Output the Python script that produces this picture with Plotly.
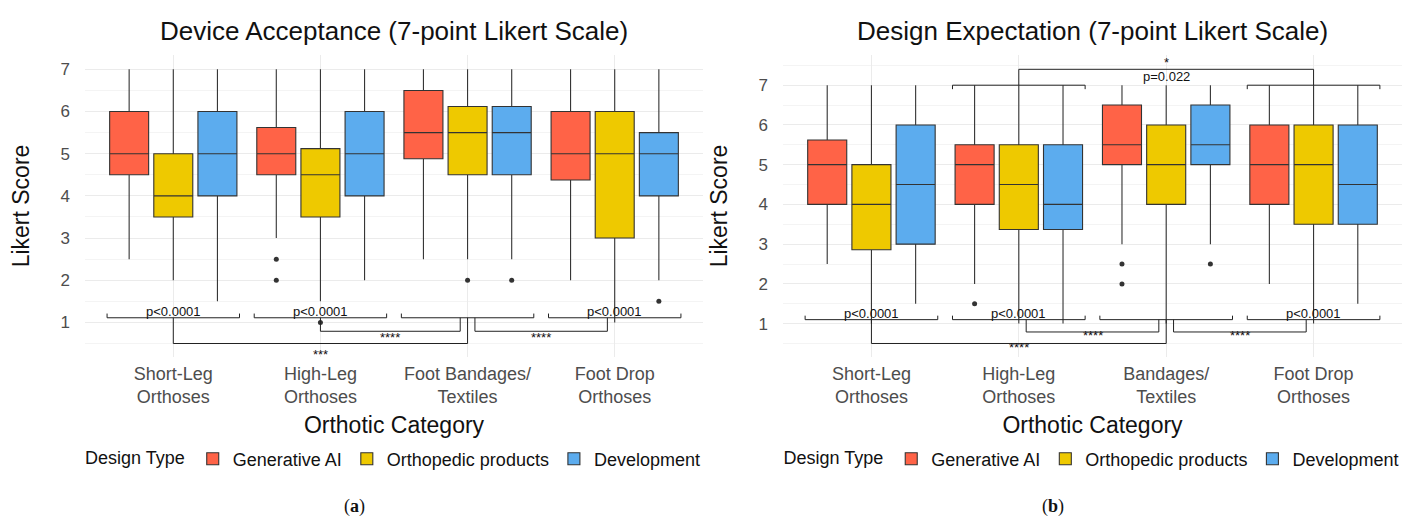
import plotly.graph_objects as go

# ---------------- data ----------------
categories_a = ["Short-Leg<br>Orthoses", "High-Leg<br>Orthoses", "Foot Bandages/<br>Textiles", "Foot Drop<br>Orthoses"]
categories_b = ["Short-Leg<br>Orthoses", "High-Leg<br>Orthoses", "Bandages/<br>Textiles", "Foot Drop<br>Orthoses"]
design_types = ["Generative AI", "Orthopedic products", "Development"]
colors = ["#FF6347", "#EEC900", "#5CACEE"]

# Panel (a) Device Acceptance: per design type, values over the 4 categories
a_low = [[2.5, 3.0, 2.5, 2.0], [2.0, 1.5, 2.5, 1.0], [1.5, 2.0, 2.5, 2.0]]
a_q1 = [[4.5, 4.5, 4.88, 4.375], [3.5, 3.5, 4.5, 3.0], [4.0, 4.0, 4.5, 4.0]]
a_med = [[5.0, 5.0, 5.5, 5.0], [4.0, 4.5, 5.5, 5.0], [5.0, 5.0, 5.5, 5.0]]
a_q3 = [[6.0, 5.62, 6.5, 6.0], [5.0, 5.12, 6.12, 6.0], [6.0, 6.0, 6.12, 5.5]]
a_high = [[7, 7, 7, 7], [7, 7, 7, 7], [7, 7, 7, 7]]
a_out_cat = [[1, 1], [1, 2], [2, 3]]
a_out_val = [[2.5, 2.0], [1.0, 2.0], [2.0, 1.5]]

# Panel (b) Design Expectation
b_low = [[2.5, 2.0, 3.0, 2.0], [1.0, 1.0, 1.0, 1.0], [1.5, 1.0, 3.0, 1.5]]
b_q1 = [[4.0, 4.0, 5.0, 4.0], [2.86, 3.37, 4.0, 3.5], [3.0, 3.37, 5.0, 3.5]]
b_med = [[5.0, 5.0, 5.5, 5.0], [4.0, 4.5, 5.0, 5.0], [4.5, 4.0, 5.5, 4.5]]
b_q3 = [[5.62, 5.5, 6.5, 6.0], [5.0, 5.5, 6.0, 6.0], [6.0, 5.5, 6.5, 6.0]]
b_high = [[7, 7, 7, 7], [7, 7, 7, 7], [7, 7, 7, 7]]
b_out_cat = [[1, 2, 2], [], [2]]
b_out_val = [[1.5, 2.5, 2.0], [], [2.5]]

# significance annotations
within_labels_a = ["p&lt;0.0001", "p&lt;0.0001", "", "p&lt;0.0001"]
within_labels_b = ["p&lt;0.0001", "p&lt;0.0001", "", "p&lt;0.0001"]
# (x0, x1, y, label, label_y)
cross_a = [(0, 2, 0.5, "***", 0.25), (1.0, 1.95, 0.79, "****", 0.64), (2.05, 2.95, 0.79, "****", 0.64)]
cross_b = [(0, 2, 0.5, "****", 0.39), (1.05, 1.95, 0.79, "****", 0.69), (2.05, 2.95, 0.79, "****", 0.69)]
top_groups_b = [1, 3]
top_cross_b = (1, 3, 7.4, "*", 7.56, "p=0.022", 7.22)

# ---------------- style ----------------
FONT = "Liberation Sans, Arial, sans-serif"
offsets = [-0.3, 0.0, 0.3]
BOXW = 0.265
LINEC = "#333333"

fig = go.Figure()


def add_panel(xref, yref, legend, low, q1, med, q3, high, out_cat, out_val):
    for g, name in enumerate(design_types):
        xs = [i + offsets[g] for i in range(4)]
        fig.add_trace(go.Box(
            x=xs, lowerfence=low[g], q1=q1[g], median=med[g], q3=q3[g], upperfence=high[g],
            name=name, fillcolor=colors[g], line=dict(color=LINEC, width=1.1),
            width=BOXW, whiskerwidth=0, boxpoints=False, xaxis=xref, yaxis=yref,
            legend=legend, legendgroup=legend + name, hoverinfo="skip"))
        if out_cat[g]:
            fig.add_trace(go.Scatter(
                x=[c + offsets[g] for c in out_cat[g]], y=out_val[g], mode="markers",
                marker=dict(color=LINEC, size=5), showlegend=False, xaxis=xref, yaxis=yref,
                hoverinfo="skip"))


add_panel("x", "y", "legend", a_low, a_q1, a_med, a_q3, a_high, a_out_cat, a_out_val)
add_panel("x2", "y2", "legend2", b_low, b_q1, b_med, b_q3, b_high, b_out_cat, b_out_val)

shapes = []
annos = []


def line(xr, yr, x0, y0, x1, y1):
    shapes.append(dict(type="line", xref=xr, yref=yr, x0=x0, y0=y0, x1=x1, y1=y1,
                       line=dict(color="#222222", width=1)))


def text(xr, yr, x, y, t, size=13):
    annos.append(dict(xref=xr, yref=yr, x=x, y=y, text=t, showarrow=False,
                      font=dict(family=FONT, size=size, color="#111111")))


def bottom_brackets(xr, yr, labels, yl, ytick, ylab):
    for i, lab in enumerate(labels):
        x0, x1 = i - 0.45, i + 0.45
        line(xr, yr, x0, yl, x1, yl)
        line(xr, yr, x0, yl, x0, ytick)
        line(xr, yr, x1, yl, x1, ytick)
        if lab:
            text(xr, yr, i, ylab, lab)


def cross_brackets(xr, yr, items, ytop):
    for x0, x1, y, lab, ly in items:
        line(xr, yr, x0, y, x1, y)
        line(xr, yr, x0, y, x0, ytop)
        line(xr, yr, x1, y, x1, ytop)
        text(xr, yr, (x0 + x1) / 2, ly, lab)


bottom_brackets("x", "y", within_labels_a, 1.11, 1.21, 1.26)
cross_brackets("x", "y", cross_a, 1.11)
bottom_brackets("x2", "y2", within_labels_b, 1.10, 1.20, 1.25)
cross_brackets("x2", "y2", cross_b, 1.10)
for i in top_groups_b:
    x0, x1 = i - 0.45, i + 0.45
    line("x2", "y2", x0, 7.0, x1, 7.0)
    line("x2", "y2", x0, 7.0, x0, 6.9)
    line("x2", "y2", x1, 7.0, x1, 6.9)
tx0, tx1, ty, tlab, tly, tlab2, tly2 = top_cross_b
line("x2", "y2", tx0, ty, tx1, ty)
line("x2", "y2", tx0, ty, tx0, 7.0)
line("x2", "y2", tx1, ty, tx1, 7.0)
text("x2", "y2", (tx0 + tx1) / 2, tly, tlab)
text("x2", "y2", (tx0 + tx1) / 2, tly2, tlab2)

# titles / captions
W, H = 1416, 517
titles = [("Device Acceptance (7-point Likert Scale)", 394 / W), ("Design Expectation (7-point Likert Scale)", 1092.5 / W)]
for t, xc in titles:
    annos.append(dict(xref="paper", yref="paper", x=xc, y=(H - 31) / H, text=t, showarrow=False,
                      xanchor="center", yanchor="middle",
                      font=dict(family=FONT, size=26, color="#111111")))
for t, xc in [("(<b>a</b>)", 355 / W), ("(<b>b</b>)", 1053 / W)]:
    annos.append(dict(xref="paper", yref="paper", x=xc, y=(H - 506) / H, text=t, showarrow=False,
                      xanchor="center", yanchor="middle",
                      font=dict(family="Liberation Serif, DejaVu Serif, serif", size=18, color="#111111")))

ydom = [(H - 357) / H, (H - 55) / H]
common_x = dict(showline=False, zeroline=False, ticks="", showgrid=True, gridcolor="#EBEBEB", gridwidth=1,
                tickvals=[0, 1, 2, 3], range=[-0.6, 3.6], ticklabelstandoff=4,
                tickfont=dict(family=FONT, size=18, color="#4D4D4D"),
                title=dict(text="Orthotic Category", font=dict(family=FONT, size=23, color="#111111"), standoff=10))
common_y = dict(showline=False, zeroline=False, ticks="", showgrid=True, gridcolor="#EBEBEB", gridwidth=1,
                tickvals=[1, 2, 3, 4, 5, 6, 7], domain=ydom,
                minor=dict(dtick=0.5, showgrid=True, gridcolor="#F4F4F4", gridwidth=1),
                tickfont=dict(family=FONT, size=17, color="#4D4D4D"), ticklabelstandoff=14,
                title=dict(text="Likert Score", font=dict(family=FONT, size=23, color="#111111"), standoff=24))

legend_common = dict(orientation="h", xanchor="center", yanchor="middle", y=(H - 459) / H,
                     font=dict(family=FONT, size=18, color="#111111"),
                     title=dict(text="Design Type", side="left", font=dict(family=FONT, size=18, color="#111111")),
                     bgcolor="rgba(0,0,0,0)", itemwidth=30, tracegroupgap=0)

fig.update_layout(
    width=W, height=H, plot_bgcolor="white", paper_bgcolor="white",
    margin=dict(l=0, r=0, t=0, b=0), showlegend=True,
    xaxis=dict(common_x, domain=[85 / W, 703 / W], ticktext=categories_a, anchor="y"),
    yaxis=dict(common_y, range=[0.18, 7.34], anchor="x"),
    xaxis2=dict(common_x, domain=[783 / W, 1402 / W], ticktext=categories_b, anchor="y2"),
    yaxis2=dict(common_y, range=[0.16, 7.76], anchor="x2"),
    legend=dict(legend_common, x=394 / W),
    legend2=dict(legend_common, x=1092.5 / W),
    shapes=shapes, annotations=annos,
)

fig.write_html("out.html", config={"displayModeBar": False},
               post_script="document.body.style.margin='0';document.body.style.overflow='hidden';")
